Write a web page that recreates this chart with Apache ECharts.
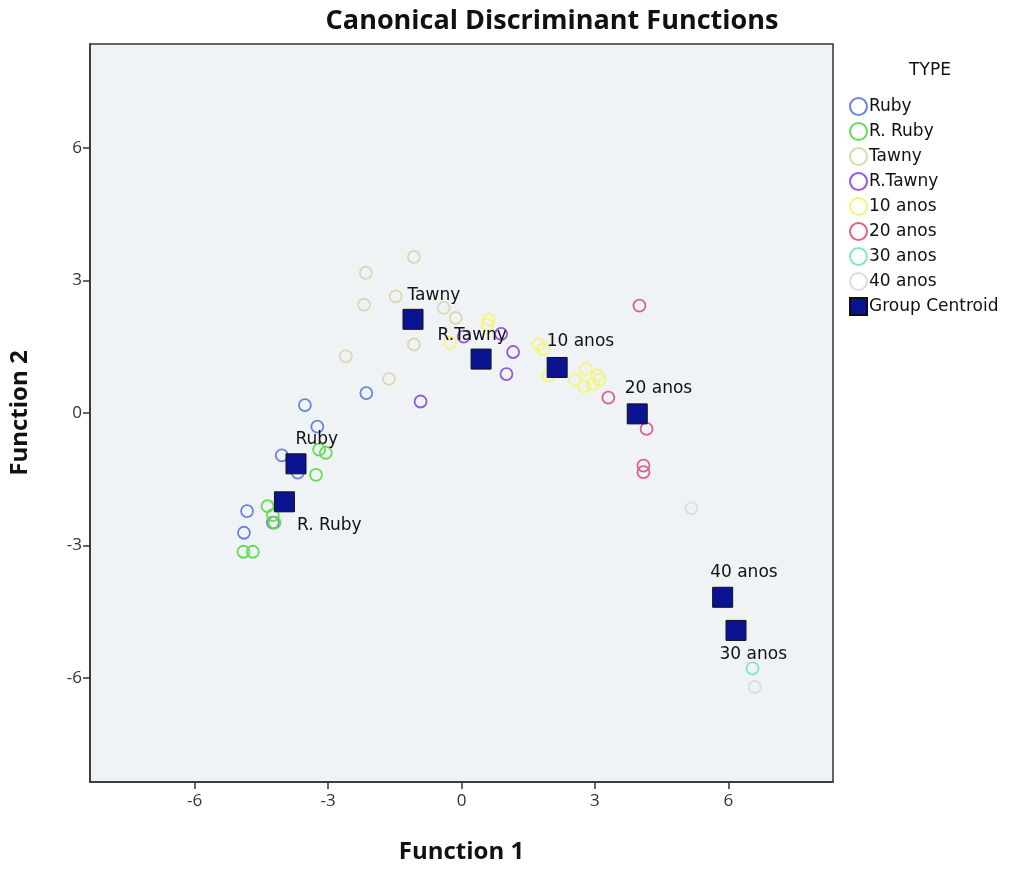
<!DOCTYPE html>
<html>
<head>
<meta charset="utf-8">
<script src="https://cdn.jsdelivr.net/npm/echarts@6/dist/echarts.min.js"></script>
<style>html,body{margin:0;padding:0;background:#fff;}#c{width:1020px;height:869px;}</style>
</head>
<body>
<div id="c"></div>
<script>
// ---- data ----
const groupNames = ['Ruby', 'R. Ruby', 'Tawny', 'R.Tawny', '10 anos', '20 anos', '30 anos', '40 anos'];
const ruby = [[-2.14,0.45],[-3.52,0.18],[-3.24,-0.31],[-4.04,-0.96],[-3.68,-1.35],[-4.82,-2.22],[-4.24,-2.48],[-4.89,-2.71]];
const rRuby = [[-3.2,-0.83],[-3.05,-0.9],[-3.27,-1.40],[-4.36,-2.11],[-4.24,-2.31],[-4.2,-2.48],[-4.9,-3.14],[-4.69,-3.14]];
const tawny = [[-1.07,3.53],[-2.15,3.17],[-1.48,2.64],[-2.19,2.45],[-0.40,2.38],[-0.13,2.15],[-1.07,1.55],[-2.6,1.28],[-1.63,0.77]];
const rTawny = [[0.05,1.73],[0.89,1.79],[1.16,1.38],[1.01,0.88],[-0.92,0.26]];
const anos10 = [[-0.25,1.59],[0.61,2.12],[0.58,2.0],[1.73,1.55],[1.84,1.44],[1.95,0.85],[2.55,0.75],[2.8,1.0],[2.95,0.65],[3.05,0.85],[2.75,0.6],[3.1,0.75]];
const anos20 = [[4.0,2.43],[3.30,0.35],[4.16,-0.36],[4.09,-1.19],[4.09,-1.34]];
const anos30 = [[6.54,-5.78]];
const anos40 = [[5.17,-2.16],[6.59,-6.2]];
const centroidNames = ['Ruby', 'R. Ruby', 'Tawny', 'R.Tawny', '10 anos', '20 anos', '30 anos', '40 anos'];
const centroids = [[-3.72,-1.15],[-3.98,-2.01],[-1.09,2.12],[0.44,1.22],[2.15,1.03],[3.95,-0.02],[6.17,-4.92],[5.87,-4.17]];
const tickValues = [-6, -3, 0, 3, 6];

// ---- styles ----
const groupColors = ['#6a84dc', '#66dc52', '#dadab0', '#9458dc', '#f4f47a', '#e0608a', '#80e6c8', '#dcdcdc'];
const labelOffsets = [[10,-14],[23,34],[5,-13],[-33,-13],[0,-15],[-2,-15],[-6,35],[-2,-14]];
const groupData = [ruby, rRuby, tawny, rTawny, anos10, anos20, anos30, anos40];
const FONT = 'DejaVu Sans';

const series = groupNames.map((n, i) => ({
  name: n,
  type: 'scatter',
  data: groupData[i],
  symbol: 'circle',
  symbolSize: 12,
  itemStyle: { color: 'rgba(255,255,255,0)', borderColor: groupColors[i], borderWidth: 1.8, opacity: 1 }
}));
series.push({
  name: 'Group Centroid',
  type: 'scatter',
  symbol: 'rect',
  symbolSize: 20,
  z: 5,
  itemStyle: { color: '#0a1490', borderColor: '#111', borderWidth: 1, opacity: 1 },
  data: centroids.map((v, i) => ({
    value: v,
    label: {
      show: true,
      formatter: centroidNames[i],
      position: labelOffsets[i],
      align: 'left',
      verticalAlign: 'middle',
      color: '#111',
      fontFamily: FONT,
      fontSize: 17
    }
  }))
});

const chart = echarts.init(document.getElementById('c'), null, { renderer: 'canvas' });
chart.setOption({
  animation: false,
  backgroundColor: '#fff',
  title: [
    { text: 'Canonical Discriminant Functions', left: 547, top: 3, textAlign: 'center',
      textStyle: { fontFamily: 'Open Sans', fontWeight: 'bold', fontSize: 27, color: '#111' } },
    { text: 'TYPE', left: 925, top: 57, textAlign: 'center',
      textStyle: { fontFamily: FONT, fontWeight: 'normal', fontSize: 17, color: '#111' } }
  ],
  legend: {
    orient: 'vertical',
    left: 844,
    top: 92,
    itemWidth: 17,
    itemHeight: 17,
    itemGap: 6,
    textStyle: { fontFamily: FONT, fontSize: 17, color: '#111', padding: [0,0,0,-3] },
    data: groupNames.map(n => ({ name: n, icon: 'circle' })).concat([{ name: 'Group Centroid', icon: 'rect' }])
  },
  grid: {
    left: 88, top: 44, width: 745, height: 742,
    show: true, backgroundColor: '#f0f3f6', borderColor: '#333', borderWidth: 1.5
  },
  xAxis: {
    type: 'value', min: -8.35, max: 8.35,
    name: 'Function 1', nameLocation: 'middle', nameGap: 58,
    nameTextStyle: { fontFamily: 'Open Sans', fontWeight: 'bold', fontSize: 24, color: '#111' },
    axisLine: { show: true, onZero: false, lineStyle: { color: '#333', width: 1.5 } },
    axisTick: { show: true, length: 7, customValues: tickValues, lineStyle: { color: '#333', width: 1.5 } },
    axisLabel: { customValues: tickValues, fontFamily: 'Open Sans', fontSize: 17, color: '#333', margin: 11 },
    splitLine: { show: false }
  },
  yAxis: {
    type: 'value', min: -8.35, max: 8.35,
    name: 'Function 2', nameLocation: 'middle', nameGap: 58,
    nameTextStyle: { fontFamily: 'Open Sans', fontWeight: 'bold', fontSize: 24, color: '#111' },
    axisLine: { show: true, onZero: false, lineStyle: { color: '#333', width: 1.5 } },
    axisTick: { show: true, length: 7, customValues: tickValues, lineStyle: { color: '#333', width: 1.5 } },
    axisLabel: { customValues: tickValues, fontFamily: 'Open Sans', fontSize: 17, color: '#333', margin: 8 },
    splitLine: { show: false }
  },
  series: series
});
</script>
</body>
</html>
